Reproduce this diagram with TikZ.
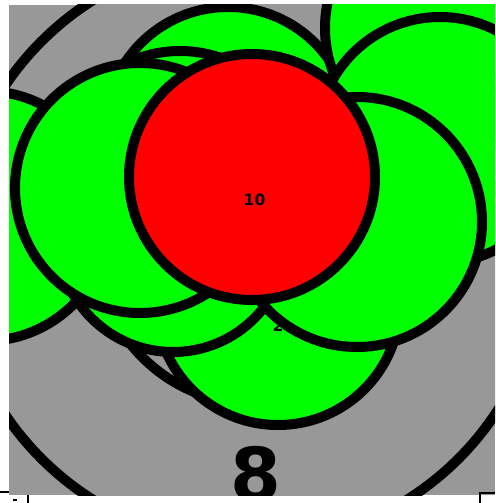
\documentclass[tikz,border=0pt]{standalone}
\usepackage{fontspec}
\newfontfamily\lblfont{DejaVu Sans}
\definecolor{bggray}{RGB}{152,152,152}
\begin{document}
\begin{tikzpicture}[x=1pt,y=-1pt,
  ring/.style={circle,draw=black,line width=10pt,inner sep=0pt,outer sep=0pt},
  gc/.style={ring,fill=green},
  rc/.style={ring,fill=red},
  bigring/.style={draw=black,line width=10pt,fill=bggray},
  lbl/.style={font=\lblfont\bfseries\fontsize{15.5}{18}\selectfont,inner sep=0pt,anchor=base,text=black},
  bigl/.style={font=\lblfont\bfseries\fontsize{73}{80}\selectfont,inner sep=0pt,anchor=base,text=black},
  stray/.style={draw=black,line width=1.5pt}]
\useasboundingbox (0,0) rectangle (495,503);
\coordinate (oc) at (250,250);
\coordinate (ic) at (255,245);
\begin{scope}
  \clip (9,5) rectangle (495,495);
  \fill[bggray] (9,5) rectangle (495,495);
  \draw[bigring] (oc) circle[radius=295pt];
  \draw[bigring] (ic) circle[radius=159pt];
  \node[bigl] (l8) at (255.5,500) {8};
  \node[gc,minimum size=244pt] (gb) at (278,303) {};
  \node[lbl] (l2) at (278,331) {2};
  \node[gc,minimum size=250pt] (gfl) at (-15,216) {};
  \node[gc,minimum size=246pt] (gt) at (228,130) {};
  \node[gc,minimum size=246pt] (gm) at (180,174) {};
  \node[gc,minimum size=250pt] (gtr) at (450,28) {};
  \node[gc,minimum size=246pt] (gtr2) at (440,140) {};
  \node[gc,minimum size=230pt] (gll) at (173,237) {};
  \node[gc,minimum size=250pt] (gr) at (357,222) {};
  \node[gc,minimum size=250pt] (gl) at (140,188) {};
  \node[rc,minimum size=246pt] (red) at (252,177) {};
  \node[lbl] (l10) at (254.5,205) {10};
\end{scope}
\draw[stray] (0,492) -- (9,492);
\draw[stray] (28,495) -- (28,503);
\draw[stray] (13,500) -- (17,500);
\draw[stray] (480,503) -- (480,493) -- (495,493);
\end{tikzpicture}
\end{document}
